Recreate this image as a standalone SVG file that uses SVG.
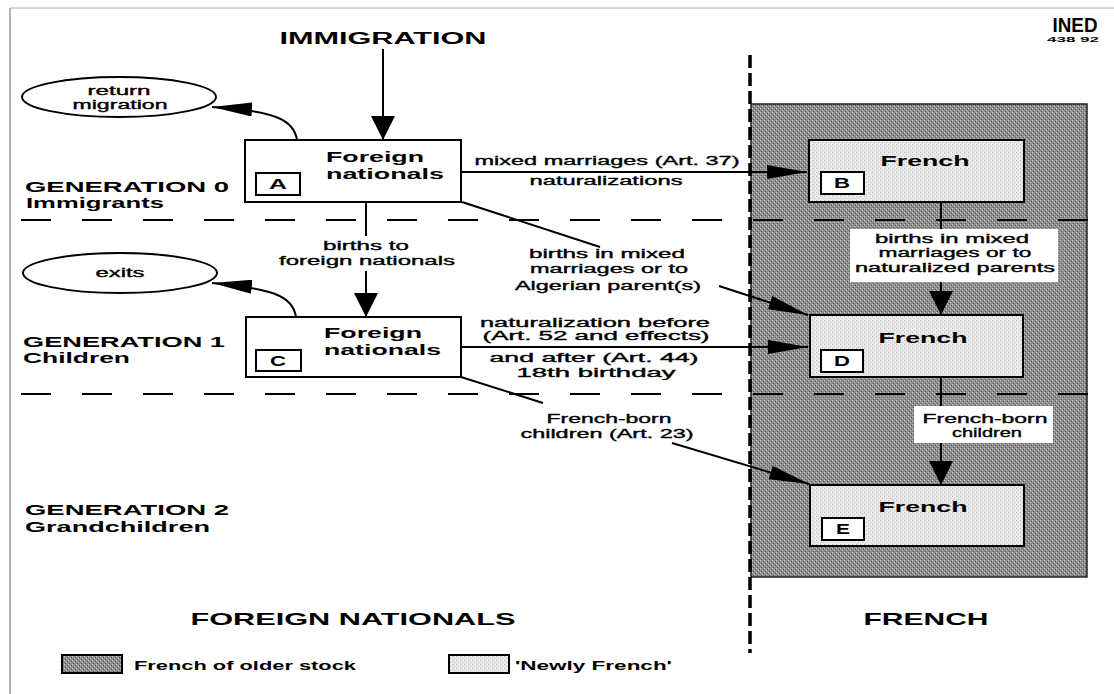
<svg xmlns="http://www.w3.org/2000/svg" width="1114" height="694" viewBox="0 0 1114 694">
  <defs>
    <pattern id="dark" width="4" height="4" patternUnits="userSpaceOnUse">
      <rect width="4" height="4" fill="#8e8e8e"/>
      <rect x="0" y="0" width="1" height="1" fill="#c4c4c4"/>
      <rect x="2" y="2" width="1" height="1" fill="#c4c4c4"/>
      <rect x="1" y="3" width="1" height="1" fill="#5a5a5a"/>
      <rect x="3" y="1" width="1" height="1" fill="#5a5a5a"/>
    </pattern>
    <pattern id="light" width="4" height="4" patternUnits="userSpaceOnUse">
      <rect width="4" height="4" fill="#e8e8e8"/>
      <rect x="0" y="0" width="1" height="1" fill="#b8b8b8"/>
      <rect x="2" y="2" width="1" height="1" fill="#c8c8c8"/>
      <rect x="3" y="0" width="1" height="1" fill="#fafafa"/>
    </pattern>
    <marker id="ah" markerUnits="userSpaceOnUse" markerWidth="40" markerHeight="14" refX="40" refY="7" orient="auto">
      <path d="M0,0 L40,7 L0,14 Z" fill="#000"/>
    </marker>
    <marker id="av" markerUnits="userSpaceOnUse" markerWidth="24" markerHeight="24" refX="24" refY="12" orient="auto">
      <path d="M0,0 L24,12 L0,24 Z" fill="#000"/>
    </marker>
  </defs>
  <style>
    text { font-family: "Liberation Sans", Arial, sans-serif; fill: #000; }
    .head { font-size: 16px; font-weight: bold; }
    .gen { font-size: 15px; font-weight: bold; }
    .box { font-size: 15px; font-weight: bold; }
    .lbl { font-size: 12.5px; stroke: #000; stroke-width: 0.35px; }
    .let { font-size: 14px; font-weight: bold; }
    .leg { font-size: 12.5px; font-weight: bold; }
    .node { stroke: #000; stroke-width: 2; }
    .conn { stroke: #000; stroke-width: 2; fill: none; }
    .dash { stroke: #000; stroke-width: 2; stroke-dasharray: 30 31; fill: none; }
  </style>

  <rect width="1114" height="694" fill="#fff"/>
  <!-- frame -->
  <line x1="10" y1="8" x2="1114" y2="8" stroke="#aaa" stroke-width="1"/>
  <line x1="10" y1="8" x2="10" y2="694" stroke="#999" stroke-width="1.5"/>

  <!-- French region -->
  <rect x="751" y="104" width="336" height="473" fill="url(#dark)" stroke="#222" stroke-width="1.5"/>

  <!-- generation separators -->
  <line class="dash" x1="21" y1="220" x2="1100" y2="220"/>
  <line class="dash" x1="21" y1="394" x2="1100" y2="394"/>

  <!-- vertical nationality divider -->
  <line x1="750" y1="55" x2="750" y2="653" stroke="#000" stroke-width="3.5" stroke-dasharray="13 5"/>

  <!-- header / logo -->
  <text class="head" x="383" y="44" text-anchor="middle" textLength="207" lengthAdjust="spacingAndGlyphs">IMMIGRATION</text>
  <text x="1075" y="32" text-anchor="middle" font-size="20" font-weight="bold" textLength="45" lengthAdjust="spacingAndGlyphs">INED</text>
  <text x="1073" y="42" text-anchor="middle" font-size="7" font-weight="bold" textLength="52" lengthAdjust="spacingAndGlyphs">438 92</text>

  <!-- generation labels -->
  <text class="gen" x="25" y="192" textLength="204" lengthAdjust="spacingAndGlyphs">GENERATION 0</text>
  <text class="gen" x="26" y="208" textLength="138" lengthAdjust="spacingAndGlyphs">Immigrants</text>
  <text class="gen" x="23" y="347" textLength="202" lengthAdjust="spacingAndGlyphs">GENERATION 1</text>
  <text class="gen" x="23" y="363" textLength="107" lengthAdjust="spacingAndGlyphs">Children</text>
  <text class="gen" x="25" y="515" textLength="204" lengthAdjust="spacingAndGlyphs">GENERATION 2</text>
  <text class="gen" x="25" y="532" textLength="185" lengthAdjust="spacingAndGlyphs">Grandchildren</text>

  <text x="353" y="625" text-anchor="middle" font-size="17" font-weight="bold" textLength="325" lengthAdjust="spacingAndGlyphs">FOREIGN NATIONALS</text>
  <text x="926" y="625" text-anchor="middle" font-size="17" font-weight="bold" textLength="125" lengthAdjust="spacingAndGlyphs">FRENCH</text>

  <!-- connectors -->
  <g id="connectors">
    <line class="conn" x1="383" y1="49" x2="383" y2="140" stroke-width="3" marker-end="url(#av)"/>
    <path class="conn" d="M297,140 C294,120 276,111 212,107" marker-end="url(#ah)"/>
    <line class="conn" x1="462" y1="172" x2="807" y2="172" marker-end="url(#ah)"/>
    <line class="conn" x1="366" y1="202" x2="366" y2="236"/>
    <line class="conn" x1="366" y1="271" x2="366" y2="317" stroke-width="3" marker-end="url(#av)"/>
    <line class="conn" x1="462" y1="202" x2="600" y2="247"/>
    <line class="conn" x1="719" y1="286" x2="808" y2="315" marker-end="url(#ah)"/>
    <path class="conn" d="M296,317 C293,297 276,289 212,283" marker-end="url(#ah)"/>
    <line class="conn" x1="461" y1="347" x2="808" y2="347" marker-end="url(#ah)"/>
    <line class="conn" x1="461" y1="377" x2="543" y2="403"/>
    <line class="conn" x1="672" y1="443" x2="809" y2="484" marker-end="url(#ah)"/>
    <line class="conn" x1="941" y1="202" x2="941" y2="229"/>
    <line class="conn" x1="941" y1="282" x2="941" y2="315" stroke-width="3" marker-end="url(#av)"/>
    <line class="conn" x1="941" y1="377" x2="941" y2="406"/>
    <line class="conn" x1="941" y1="443" x2="941" y2="485" stroke-width="3" marker-end="url(#av)"/>

    <!-- connector labels -->
    <text class="lbl" x="607" y="165" text-anchor="middle" textLength="265" lengthAdjust="spacingAndGlyphs">mixed marriages (Art. 37)</text>
    <text class="lbl" x="606" y="185" text-anchor="middle" textLength="153" lengthAdjust="spacingAndGlyphs">naturalizations</text>
    <text class="lbl" x="366" y="250" text-anchor="middle" textLength="86" lengthAdjust="spacingAndGlyphs">births to</text>
    <text class="lbl" x="367" y="265" text-anchor="middle" textLength="176" lengthAdjust="spacingAndGlyphs">foreign nationals</text>
    <text class="lbl" x="607" y="258" text-anchor="middle" textLength="156" lengthAdjust="spacingAndGlyphs">births in mixed</text>
    <text class="lbl" x="609" y="273" text-anchor="middle" textLength="158" lengthAdjust="spacingAndGlyphs">marriages or to</text>
    <text class="lbl" x="608" y="290" text-anchor="middle" textLength="186" lengthAdjust="spacingAndGlyphs">Algerian parent(s)</text>
    <text class="lbl" x="595" y="327" text-anchor="middle" textLength="230" lengthAdjust="spacingAndGlyphs">naturalization before</text>
    <text class="lbl" x="596" y="340" text-anchor="middle" textLength="227" lengthAdjust="spacingAndGlyphs">(Art. 52 and effects)</text>
    <text class="lbl" x="594" y="362" text-anchor="middle" textLength="209" lengthAdjust="spacingAndGlyphs">and after (Art. 44)</text>
    <text class="lbl" x="596" y="377" text-anchor="middle" textLength="159" lengthAdjust="spacingAndGlyphs">18th birthday</text>
    <text class="lbl" x="609" y="423" text-anchor="middle" textLength="125" lengthAdjust="spacingAndGlyphs">French-born</text>
    <text class="lbl" x="607" y="438" text-anchor="middle" textLength="173" lengthAdjust="spacingAndGlyphs">children (Art. 23)</text>

    <rect x="850" y="229" width="208" height="53" fill="#fff"/>
    <text class="lbl" x="952" y="243" text-anchor="middle" textLength="154" lengthAdjust="spacingAndGlyphs">births in mixed</text>
    <text class="lbl" x="955" y="257" text-anchor="middle" textLength="153" lengthAdjust="spacingAndGlyphs">marriages or to</text>
    <text class="lbl" x="955" y="272" text-anchor="middle" textLength="200" lengthAdjust="spacingAndGlyphs">naturalized parents</text>

    <rect x="914" y="406" width="139" height="37" fill="#fff"/>
    <text class="lbl" x="985" y="423" text-anchor="middle" textLength="125" lengthAdjust="spacingAndGlyphs">French-born</text>
    <text class="lbl" x="987" y="437" text-anchor="middle" textLength="70" lengthAdjust="spacingAndGlyphs">children</text>
  </g>

  <!-- nodes -->
  <g id="return-migration">
    <ellipse class="node" cx="119" cy="97" rx="97" ry="20" fill="#fff"/>
    <text class="lbl" x="119" y="95" text-anchor="middle" textLength="63" lengthAdjust="spacingAndGlyphs">return</text>
    <text class="lbl" x="120" y="109" text-anchor="middle" textLength="95" lengthAdjust="spacingAndGlyphs">migration</text>
  </g>
  <g id="exits">
    <ellipse class="node" cx="120" cy="273" rx="97" ry="20" fill="#fff"/>
    <text class="lbl" x="120" y="277" text-anchor="middle" textLength="49" lengthAdjust="spacingAndGlyphs">exits</text>
  </g>
  <g id="node-A">
    <rect class="node" x="245" y="140" width="216" height="62" fill="#fff"/>
    <text class="box" x="326" y="162" textLength="98" lengthAdjust="spacingAndGlyphs">Foreign</text>
    <text class="box" x="326" y="179" textLength="118" lengthAdjust="spacingAndGlyphs">nationals</text>
    <rect class="node" x="256" y="173" width="44" height="22" fill="#fff"/>
    <text class="let" x="278" y="189" text-anchor="middle" textLength="18" lengthAdjust="spacingAndGlyphs">A</text>
  </g>
  <g id="node-C">
    <rect class="node" x="246" y="317" width="215" height="60" fill="#fff"/>
    <text class="box" x="324" y="338" textLength="98" lengthAdjust="spacingAndGlyphs">Foreign</text>
    <text class="box" x="324" y="355" textLength="117" lengthAdjust="spacingAndGlyphs">nationals</text>
    <rect class="node" x="256" y="350" width="45" height="21" fill="#fff"/>
    <text class="let" x="278" y="366" text-anchor="middle" textLength="16" lengthAdjust="spacingAndGlyphs">C</text>
  </g>
  <g id="node-B">
    <rect class="node" x="809" y="140" width="215" height="62" fill="url(#light)"/>
    <text class="box" x="925" y="166" text-anchor="middle" textLength="89" lengthAdjust="spacingAndGlyphs">French</text>
    <rect class="node" x="821" y="172" width="43" height="22" fill="#fff"/>
    <text class="let" x="842" y="188" text-anchor="middle" textLength="16" lengthAdjust="spacingAndGlyphs">B</text>
  </g>
  <g id="node-D">
    <rect class="node" x="810" y="315" width="213" height="62" fill="url(#light)"/>
    <text class="box" x="923" y="343" text-anchor="middle" textLength="89" lengthAdjust="spacingAndGlyphs">French</text>
    <rect class="node" x="821" y="350" width="42" height="22" fill="#fff"/>
    <text class="let" x="842" y="366" text-anchor="middle" textLength="16" lengthAdjust="spacingAndGlyphs">D</text>
  </g>
  <g id="node-E">
    <rect class="node" x="810" y="485" width="214" height="61" fill="url(#light)"/>
    <text class="box" x="923" y="512" text-anchor="middle" textLength="89" lengthAdjust="spacingAndGlyphs">French</text>
    <rect class="node" x="822" y="518" width="42" height="22" fill="#fff"/>
    <text class="let" x="843" y="534" text-anchor="middle" textLength="14" lengthAdjust="spacingAndGlyphs">E</text>
  </g>

  <!-- legend -->
  <g id="legend">
    <rect x="62" y="655" width="60" height="18" fill="url(#dark)" stroke="#000" stroke-width="2"/>
    <text class="leg" x="134" y="670" textLength="222" lengthAdjust="spacingAndGlyphs">French of older stock</text>
    <rect x="449" y="655" width="60" height="18" fill="url(#light)" stroke="#000" stroke-width="2"/>
    <text class="leg" x="515" y="670" textLength="157" lengthAdjust="spacingAndGlyphs">'Newly French'</text>
  </g>
</svg>
